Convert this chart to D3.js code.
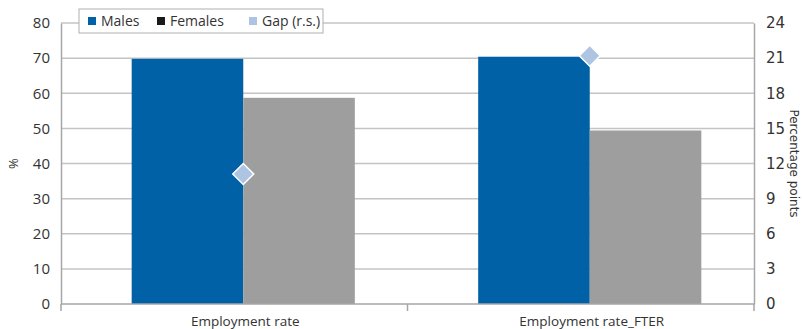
<!DOCTYPE html>
<html>
<head>
<meta charset="utf-8">
<script src="https://cdn.jsdelivr.net/npm/d3@7"></script>
<style>
  body { margin: 0; background: #fff; }
  text { font-family: "Open Sans", sans-serif; }
</style>
</head>
<body>
<script>
// Chart data
const categories = ['Employment rate', 'Employment rate_FTER'];
const males = [69.8, 70.4];
const females = [58.7, 49.4];
const gap = [11.1, 21.2];
const leftTicks = [0, 10, 20, 30, 40, 50, 60, 70, 80];
const rightTicks = [0, 3, 6, 9, 12, 15, 18, 21, 24];
const seriesNames = ['Males', 'Females', 'Gap (r.s.)'];

const width = 803;
const height = 329;
const margin = { top: 23, right: 49, bottom: 25, left: 61 };

const colors = { males: '#0061a6', females: '#9d9e9d', gap: '#aec4e3' };

const svg = d3.select('body')
    .append('svg')
    .attr('width', width)
    .attr('height', height);

// Scales
const x = d3.scaleBand()
    .domain(categories)
    .range([margin.left, width - margin.right]);

// bars sit a little to the right of the axis bands in the original
const xBars = d3.scaleBand()
    .domain(categories)
    .range([margin.left + 9, width - margin.right + 9])
    .paddingInner(0.356)
    .paddingOuter(0.178);

const xSub = d3.scaleBand()
    .domain(['males', 'females'])
    .range([0, xBars.bandwidth()]);

const yLeft = d3.scaleLinear()
    .domain([0, 80])
    .range([height - margin.bottom, margin.top]);

const yRight = d3.scaleLinear()
    .domain([0, 24])
    .range([height - margin.bottom, margin.top]);

// Gridlines
svg.append('g')
    .selectAll('line')
    .data(leftTicks.slice(1))
    .enter()
    .append('line')
    .attr('x1', margin.left)
    .attr('x2', width - margin.right)
    .attr('y1', d => yLeft(d))
    .attr('y2', d => yLeft(d))
    .attr('stroke', '#c4c4c4')
    .attr('stroke-width', 1.5);

// Bars
const groups = svg.append('g')
    .selectAll('g')
    .data(categories)
    .enter()
    .append('g')
    .attr('transform', d => `translate(${xBars(d)},0)`);

groups.append('rect')
    .attr('x', xSub('males'))
    .attr('width', xSub.bandwidth())
    .attr('y', (d, i) => yLeft(males[i]))
    .attr('height', (d, i) => yLeft(0) - yLeft(males[i]))
    .attr('fill', colors.males);

groups.append('rect')
    .attr('x', xSub('females'))
    .attr('width', xSub.bandwidth())
    .attr('y', (d, i) => yLeft(females[i]))
    .attr('height', (d, i) => yLeft(0) - yLeft(females[i]))
    .attr('fill', colors.females);

// Axes
const axisColor = '#a6a6a6';

const leftAxis = svg.append('g')
    .attr('transform', `translate(${margin.left},0)`)
    .call(d3.axisLeft(yLeft).tickValues(leftTicks).tickSize(0).tickPadding(11));
leftAxis.select('.domain').attr('stroke', axisColor).attr('stroke-width', 1.5);
leftAxis.selectAll('text')
    .attr('font-size', 15)
    .attr('fill', '#333')
    .style('font-family', '"Open Sans", sans-serif');

const rightAxis = svg.append('g')
    .attr('transform', `translate(${width - margin.right},0)`)
    .call(d3.axisRight(yRight).tickValues(rightTicks).tickSize(0).tickPadding(12));
rightAxis.select('.domain').attr('stroke', axisColor).attr('stroke-width', 1.5);
rightAxis.selectAll('text')
    .attr('font-size', 15)
    .attr('fill', '#333')
    .style('font-family', '"DejaVu Sans", sans-serif');

// Bottom axis with separators between categories
const base = yLeft(0);
svg.append('line')
    .attr('x1', margin.left)
    .attr('x2', width - margin.right)
    .attr('y1', base)
    .attr('y2', base)
    .attr('stroke', axisColor)
    .attr('stroke-width', 1.5);

const sepX = [x(categories[0]), x(categories[1]), x(categories[1]) + x.bandwidth()];
svg.selectAll('.sep')
    .data(sepX)
    .enter()
    .append('line')
    .attr('class', 'sep')
    .attr('x1', d => d)
    .attr('x2', d => d)
    .attr('y1', base)
    .attr('y2', base + 7)
    .attr('stroke', axisColor)
    .attr('stroke-width', 1.5);

svg.selectAll('.cat-label')
    .data(categories)
    .enter()
    .append('text')
    .attr('class', 'cat-label')
    .attr('x', d => xBars(d) + xBars.bandwidth() / 2 + 2)
    .attr('y', base + 22)
    .attr('text-anchor', 'middle')
    .attr('font-size', 13.5)
    .attr('fill', '#333')
    .text(d => d);

// Gap markers (diamonds on right axis)
svg.selectAll('.gap')
    .data(categories)
    .enter()
    .append('path')
    .attr('class', 'gap')
    .attr('d', d3.symbol().type(d3.symbolSquare).size(220))
    .attr('transform', (d, i) => `translate(${xBars(d) + xSub('females')},${yRight(gap[i])}) rotate(45)`)
    .attr('fill', colors.gap)
    .attr('stroke', '#fff')
    .attr('stroke-width', 1.5);

// Axis titles
svg.append('text')
    .attr('transform', `translate(18,${(margin.top + base) / 2}) rotate(-90)`)
    .attr('text-anchor', 'middle')
    .attr('font-size', 13)
    .attr('fill', '#333')
    .text('%');

svg.append('text')
    .attr('transform', `translate(790,${(margin.top + base) / 2}) rotate(90)`)
    .attr('text-anchor', 'middle')
    .attr('font-size', 12)
    .attr('fill', '#333')
    .style('font-family', '"DejaVu Sans", sans-serif')
    .text('Percentage points');

// Legend
const legend = svg.append('g').attr('transform', 'translate(79,9)');
legend.append('rect')
    .attr('width', 244)
    .attr('height', 24)
    .attr('fill', '#fff')
    .attr('stroke', '#b0b0b0')
    .attr('stroke-width', 1);

const legendX = [9, 78, 170];
const legendColors = [colors.males, '#1a1a1a', colors.gap];
const items = legend.selectAll('.item')
    .data(seriesNames)
    .enter()
    .append('g')
    .attr('class', 'item')
    .attr('transform', (d, i) => `translate(${legendX[i]},0)`);

items.append('rect')
    .attr('y', 8)
    .attr('width', 8)
    .attr('height', 8)
    .attr('fill', (d, i) => legendColors[i]);

items.append('text')
    .attr('x', 13)
    .attr('y', 17)
    .attr('font-size', 14)
    .attr('fill', '#333')
    .text(d => d);
</script>
</body>
</html>
